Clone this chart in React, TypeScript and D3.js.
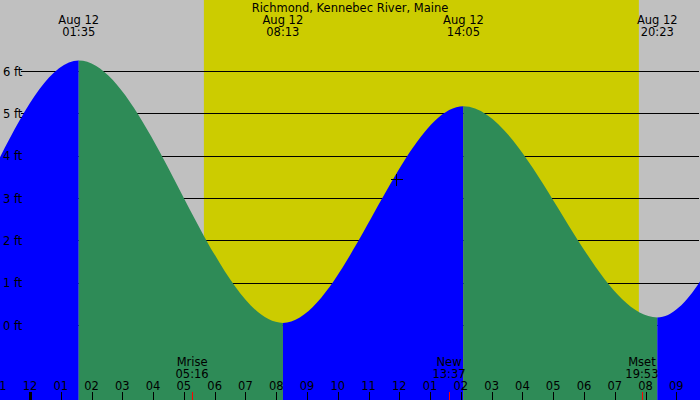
import React from 'react';
import * as d3 from 'd3';

// Tide extremes, hours from 00:00 Aug 12 (outer ones sit off-screen, they only shape the curve ends)
const tideHours = [-10.8, -4.6, 1.583, 8.217, 14.083, 20.383, 26.2, 32.4];
const tideFeet = [5.9, 0.1, 6.25, 0.05, 5.17, 0.18, 6.1, 0.1];

// Labels printed above the visible extremes
const extremeDates = ['Aug 12', 'Aug 12', 'Aug 12', 'Aug 12'];
const extremeTimes = ['01:35', '08:13', '14:05', '20:23'];

// Sun
const sunrise = '05:39';
const sunset = '19:47';

// Moon events along the bottom
const moonNames = ['Mrise', 'New', 'Mset'];
const moonTimes = ['05:16', '13:37', '19:53'];

// Current-time marker
const markerTime = '11:53';
const markerFeet = 3.45;

const hourTicks = d3.range(-1, 22);
const footTicks = [0, 1, 2, 3, 4, 5, 6];

const title = 'Richmond, Kennebec River, Maine';

const W = 700;
const H = 400;
const FONT = '"DejaVu Sans", Verdana, sans-serif';

const toHours = (s: string) => {
  const [h, m] = s.split(':').map(Number);
  return h + m / 60;
};

const hourLabel = (h: number) => {
  const v = ((h % 12) + 12) % 12;
  return v === 0 ? '12' : String(v).padStart(2, '0');
};

// snap 1px lines onto the pixel grid
const crisp = (v: number) => Math.round(v) + 0.5;

const App: React.FC = () => {
  const x = d3.scaleLinear().domain([0, 21]).range([30, 676.3]);
  const y = d3.scaleLinear().domain([0, 6]).range([325, 71]);

  const points = tideHours.map((t, i) => [t, tideFeet[i]] as [number, number]);
  const area = d3.area<[number, number]>()
    .x(d => x(d[0]))
    .y0(H)
    .y1(d => y(d[1]))
    .curve(d3.curveMonotoneX);
  const areaPath = area(points) || '';

  const xRise = x(toHours(sunrise));
  const xSet = x(toHours(sunset));

  const mx = crisp(x(toHours(markerTime)));
  const my = crisp(y(markerFeet));

  return (
    <svg
      width={W}
      height={H}
      style={{ position: 'fixed', left: 0, top: 0 }}
      fontFamily={FONT}
      fontSize={11.5}
    >
      <defs>
        {points.slice(0, -1).map((p, i) => (
          <clipPath id={`seg${i}`} key={i}>
            <rect x={x(p[0])} y={0} width={x(points[i + 1][0]) - x(p[0])} height={H} />
          </clipPath>
        ))}
      </defs>

      {/* night / day background */}
      <rect x={0} y={0} width={W} height={H} fill="#c0c0c0" />
      <rect x={xRise} y={0} width={xSet - xRise} height={H} fill="#cccc00" />

      {/* grid lines */}
      {footTicks.map(f => (
        <line
          key={f} x1={21} x2={699} y1={crisp(y(f))} y2={crisp(y(f))}
          stroke="#000" strokeWidth={1} shapeRendering="crispEdges"
        />
      ))}

      {/* tide: blue while rising, green while falling */}
      {points.slice(0, -1).map((p, i) => (
        <path
          key={i}
          d={areaPath}
          clipPath={`url(#seg${i})`}
          fill={points[i + 1][1] > p[1] ? '#0000ff' : '#2e8b57'}
        />
      ))}

      {/* y labels */}
      {footTicks.map(f => (
        <text key={f} x={3} y={y(f) + 4.5} fill="#000">{`${f} ft`}</text>
      ))}

      {/* title and extreme labels */}
      <text x={W / 2} y={11.5} textAnchor="middle" fill="#000">{title}</text>
      {extremeTimes.map((t, i) => (
        <g key={t} textAnchor="middle" fill="#000">
          <text x={x(toHours(t))} y={24}>{extremeDates[i]}</text>
          <text x={x(toHours(t))} y={36}>{t}</text>
        </g>
      ))}

      {/* marker */}
      <g stroke="#000" strokeWidth={1} shapeRendering="crispEdges">
        <line x1={mx - 6} x2={mx + 6} y1={my} y2={my} />
        <line x1={mx} x2={mx} y1={my - 6} y2={my + 6} />
      </g>

      {/* hour axis */}
      {hourTicks.map(h => (
        <g key={h}>
          <line
            x1={h === 0 ? x(h) : crisp(x(h))} x2={h === 0 ? x(h) : crisp(x(h))} y1={392} y2={H}
            stroke="#000" strokeWidth={h === 0 ? 3 : 1} shapeRendering="crispEdges"
          />
          <text x={x(h)} y={390} textAnchor="middle" fill="#000">{hourLabel(h)}</text>
        </g>
      ))}

      {/* moon events */}
      {moonTimes.map((t, i) => (
        <g key={t} textAnchor="middle" fill="#000">
          <line
            x1={crisp(x(toHours(t)))} x2={crisp(x(toHours(t)))} y1={392} y2={H}
            stroke="#ff0000" strokeWidth={1} shapeRendering="crispEdges"
          />
          <text x={x(toHours(t))} y={366}>{moonNames[i]}</text>
          <text x={x(toHours(t))} y={378}>{t}</text>
        </g>
      ))}
    </svg>
  );
};

export default App;
